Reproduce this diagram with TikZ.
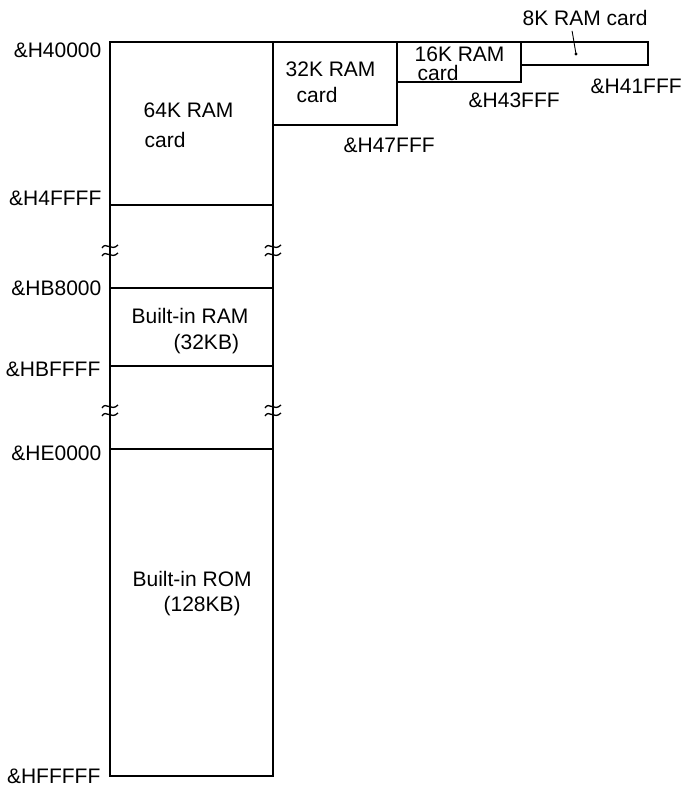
\documentclass[tikz,border=0pt]{standalone}
\usepackage{fontspec}
\setmainfont{Liberation Sans}
\usetikzlibrary{positioning, calc}

\begin{document}
\begin{tikzpicture}[
  x=1pt, y=-1pt,
  line width=1.3pt,
  addr/.style={anchor=base east, inner sep=0pt, font=\fontsize{21}{24}\selectfont},
  raddr/.style={anchor=base west, inner sep=0pt, font=\fontsize{21}{24}\selectfont},
  area/.style={anchor=base west, inner sep=0pt, font=\fontsize{21}{24}\selectfont}
]
  \useasboundingbox (0,0) rectangle (682,787);

  % main column
  \draw (110,42) rectangle (273,776);
  \foreach \y in {205,288,366,449}
    \draw (110,\y) -- (273,\y);

  % cards
  \draw (273,42) -- (648,42) -- (648,65) -- (521,65);
  \draw (273,125) -- (397,125) -- (397,42);
  \draw (397,82) -- (521,82) -- (521,42);

  % break marks
  \foreach \x in {110,273}
    \foreach \y in {246,406} {
      \draw[line width=1.3pt] (\x-8,\y+2) .. controls (\x-4,\y-5) and (\x+1,\y+6) .. (\x+8,\y-1);
      \draw[line width=1.3pt] (\x-8,\y+10) .. controls (\x-4,\y+3) and (\x+1,\y+14) .. (\x+8,\y+7);
    }

  % addresses
  \node[addr] (a40000) at (102,57) {\&H40000};
  \node[addr] (a4ffff) at (102,205) {\&H4FFFF};
  \node[addr] (ab8000) at (102,295) {\&HB8000};
  \node[addr] (abffff) at (101,376) {\&HBFFFF};
  \node[addr] (ae0000) at (102,460) {\&HE0000};
  \node[addr] (affff) at (101,783) {\&HFFFFF};
  \node[raddr] (a47fff) at (343,152) {\&H47FFF};
  \node[raddr] (a43fff) at (468,107) {\&H43FFF};
  \node[raddr] (a41fff) at (590,93) {\&H41FFF};

  % contents
  \node[area] (ram64a) at (143,117) {64K RAM};
  \node[area] (ram64b) at (144,147) {card};
  \node[area] (ram32a) at (285,76) {32K RAM};
  \node[area] (ram32b) at (296,102) {card};
  \node[area] (ram16a) at (414,61) {16K RAM};
  \node[area] (ram16b) at (417,80) {card};
  \node[area] (brama) at (131,323) {Built-in RAM};
  \node[area] (bramb) at (173,349) {(32KB)};
  \node[area] (broma) at (132,586) {Built-in ROM};
  \node[area] (bromb) at (163,611) {(128KB)};

  \node[area] (ram8) at (522,25) {8K RAM card};
  \coordinate (dot8) at (576,54);
  \draw[line width=0.9pt] ([xshift=-13pt,yshift=-5pt]ram8.south) -- (dot8);
  \fill (dot8) circle (1.7pt);
\end{tikzpicture}
\end{document}
